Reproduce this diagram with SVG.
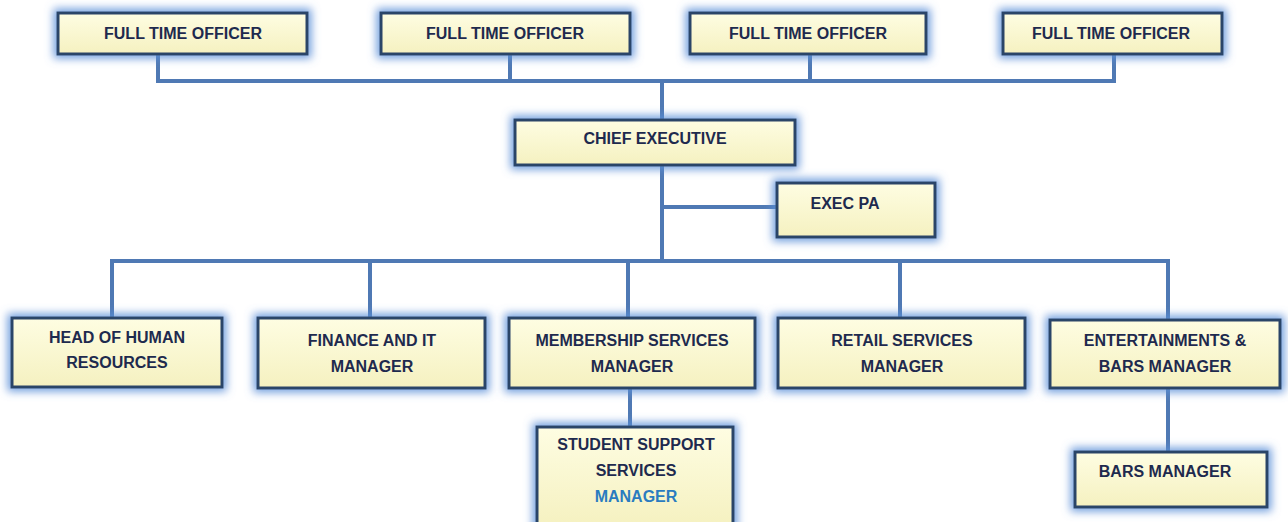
<svg xmlns="http://www.w3.org/2000/svg" width="1288" height="522" viewBox="0 0 1288 522">
<defs>
<linearGradient id="fill" x1="0" y1="0" x2="0" y2="1">
<stop offset="0" stop-color="#fefde2"/>
<stop offset="1" stop-color="#f5f1c0"/>
</linearGradient>
<filter id="glow" x="-20%" y="-40%" width="140%" height="180%">
<feMorphology in="SourceAlpha" operator="dilate" radius="3" result="d"/>
<feGaussianBlur in="d" stdDeviation="4" result="b"/>
<feFlood flood-color="#5b8fd8" flood-opacity="0.85"/>
<feComposite in2="b" operator="in" result="g"/>
<feMerge><feMergeNode in="g"/><feMergeNode in="SourceGraphic"/></feMerge>
</filter>
</defs>
<style>
.box{fill:url(#fill);stroke:#2c4468;stroke-width:3;filter:url(#glow)}
.t{font-family:"Liberation Sans",Arial,sans-serif;font-weight:bold;font-size:16px;fill:#1e2a4e;text-anchor:middle}
.blue{fill:#2a7cc0}
.ln{stroke:#4f79b4;stroke-width:4;fill:none;stroke-linecap:square}
</style>
<rect width="1288" height="522" fill="#ffffff"/>
<g id="connectors">
<path class="ln" d="M158 55V81H1114V55M510 55V81M810 55V81M662 81V120"/>
<path class="ln" d="M662 165V261M662 207H777"/>
<path class="ln" d="M112 318V261H1168V320M370 261V318M628 261V318M900 261V318"/>
<path class="ln" d="M630 388V427"/>
<path class="ln" d="M1168 388V452"/>
</g>
<g id="fto1"><rect class="box" x="58" y="13" width="249" height="41"/><text class="t" x="183" y="39">FULL TIME OFFICER</text></g>
<g id="fto2"><rect class="box" x="381" y="13" width="249" height="41"/><text class="t" x="505" y="39">FULL TIME OFFICER</text></g>
<g id="fto3"><rect class="box" x="690" y="13" width="236" height="41"/><text class="t" x="808" y="39">FULL TIME OFFICER</text></g>
<g id="fto4"><rect class="box" x="1003" y="13" width="219" height="41"/><text class="t" x="1111" y="39">FULL TIME OFFICER</text></g>
<g id="ceo"><rect class="box" x="515" y="120" width="280" height="45"/><text class="t" x="655" y="144">CHIEF EXECUTIVE</text></g>
<g id="pa"><rect class="box" x="777" y="183" width="158" height="54"/><text class="t" x="845" y="209">EXEC PA</text></g>
<g id="hr"><rect class="box" x="12" y="318" width="210" height="69"/><text class="t" x="117" y="343">HEAD OF HUMAN</text><text class="t" x="117" y="368">RESOURCES</text></g>
<g id="fin"><rect class="box" x="258" y="318" width="227" height="70"/><text class="t" x="372" y="346">FINANCE AND IT</text><text class="t" x="372" y="372">MANAGER</text></g>
<g id="mem"><rect class="box" x="509" y="318" width="246" height="70"/><text class="t" x="632" y="346">MEMBERSHIP SERVICES</text><text class="t" x="632" y="372">MANAGER</text></g>
<g id="ret"><rect class="box" x="778" y="318" width="247" height="70"/><text class="t" x="902" y="346">RETAIL SERVICES</text><text class="t" x="902" y="372">MANAGER</text></g>
<g id="ent"><rect class="box" x="1050" y="320" width="230" height="68"/><text class="t" x="1165" y="346">ENTERTAINMENTS &amp;</text><text class="t" x="1165" y="372">BARS MANAGER</text></g>
<g id="ssm"><rect class="box" x="537" y="427" width="196" height="100"/><text class="t" x="636" y="450">STUDENT SUPPORT</text><text class="t" x="636" y="476">SERVICES</text><text class="t blue" x="636" y="502">MANAGER</text></g>
<g id="bars"><rect class="box" x="1075" y="452" width="192" height="55"/><text class="t" x="1165" y="477">BARS MANAGER</text></g>
</svg>
